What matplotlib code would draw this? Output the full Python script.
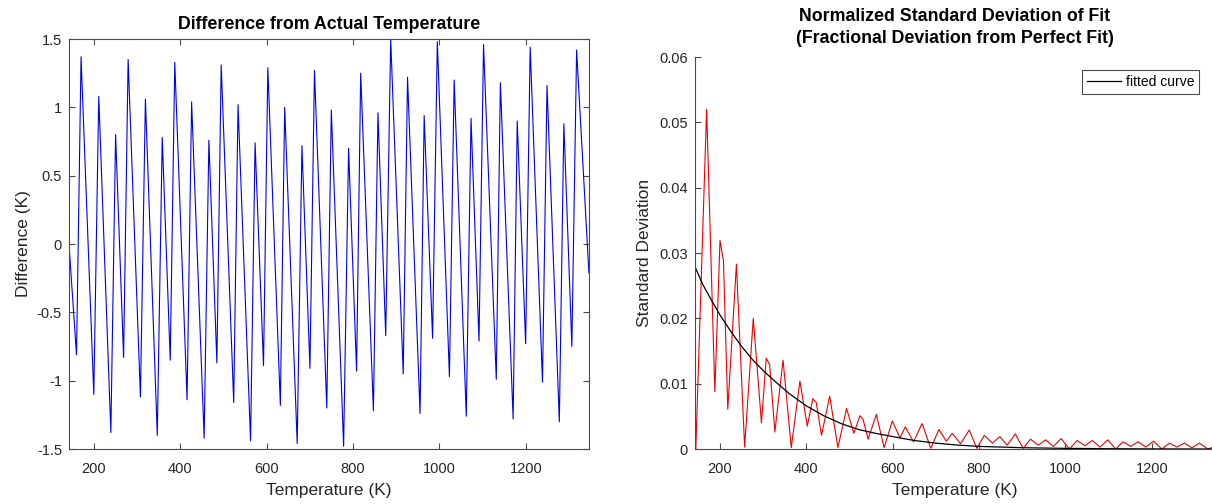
import matplotlib
matplotlib.use("Agg")
import matplotlib.pyplot as plt

# left panel: difference from actual temperature (peaks / troughs)
left_temp = [142, 159.5, 170, 199.5, 211, 239, 250, 268.5, 279, 307.5, 319, 346.5, 358,
             376.5, 387, 415.5, 426, 455, 466, 484.5, 494.5, 523.5, 533.5, 562.5, 573,
             592.5, 602.5, 631.5, 641.5, 670.5, 681.5, 700, 710.5, 739, 749.5, 778, 789.5,
             808, 817.5, 847, 857.5, 875.5, 887, 916, 926, 955, 964.5, 984, 995, 1023, 1034,
             1062, 1073, 1091.5, 1102, 1131.5, 1141, 1170.5, 1180, 1199.5, 1210, 1238.5, 1249,
             1277.5, 1288, 1306.5, 1317.5, 1346]
left_diff = [0.0, -0.81, 1.37, -1.10, 1.08, -1.38, 0.80, -0.83, 1.35, -1.12, 1.06, -1.40, 0.78,
             -0.85, 1.33, -1.14, 1.04, -1.42, 0.76, -0.87, 1.31, -1.16, 1.02, -1.44, 0.74,
             -0.89, 1.29, -1.18, 1.00, -1.46, 0.72, -0.91, 1.27, -1.20, 0.98, -1.48, 0.70,
             -0.93, 1.25, -1.22, 0.96, -0.67, 1.50, -0.95, 1.22, -1.24, 0.94, -0.69, 1.48,
             -0.97, 1.20, -1.26, 0.92, -0.71, 1.46, -0.99, 1.18, -1.28, 0.90, -0.73, 1.44,
             -1.01, 1.16, -1.30, 0.88, -0.75, 1.42, -0.21]

# right panel: normalized standard deviation (red) and fitted curve (black)
std_temp = [144, 169, 188, 200, 208, 218, 238, 257, 277, 296, 307, 315, 327, 346, 365,
            385, 402, 415, 423, 435, 454, 473, 493, 510, 524, 531, 543, 562, 580,
            599, 617, 629, 648, 668, 688, 707, 724, 738, 757, 777, 795, 812, 831, 848,
            865, 884, 902, 919, 937, 954, 972, 990, 1009, 1027, 1045, 1062, 1080, 1098,
            1116, 1133, 1151, 1168, 1186, 1204, 1223, 1241, 1258, 1275, 1293, 1310, 1330, 1346]
std_dev = [0.0, 0.052, 0.0088, 0.0319, 0.0288, 0.0061, 0.0283, 0.0003, 0.0200, 0.0040,
           0.0139, 0.0129, 0.0026, 0.0136, 0.0002, 0.0104, 0.0035, 0.0077, 0.0071, 0.0021,
           0.0081, 0.0002, 0.0062, 0.0024, 0.0051, 0.0046, 0.0015, 0.0053, 0.0002,
           0.0043, 0.0017, 0.0034, 0.0011, 0.0039, 0.0001, 0.0030, 0.0012, 0.0024, 0.0008,
           0.0029, 0.0001, 0.0021, 0.0009, 0.0019, 0.0006, 0.0023, 0.0001, 0.0015, 0.0006,
           0.0014, 0.0004, 0.0016, 0.0, 0.0013, 0.0005, 0.0013, 0.0003, 0.0014,
           0.0, 0.0011, 0.0004, 0.0011, 0.0003, 0.0012, 0.0, 0.0009, 0.0003, 0.0009,
           0.0002, 0.0009, 0.0, 0.0004]

fit_temp = [142, 160, 180, 200, 225, 250, 275, 300, 330, 360, 400, 440, 480, 520, 560,
            600, 650, 700, 750, 800, 850, 900, 1000, 1100, 1200, 1346]
fit_dev = [0.0279, 0.0252, 0.0228, 0.0205, 0.0180, 0.0157, 0.0137, 0.0120, 0.0102, 0.0085,
           0.0066, 0.0051, 0.0039, 0.0030, 0.0024, 0.0019, 0.0013, 0.0009, 0.0006, 0.0004,
           0.0003, 0.0002, 0.0001, 0.00005, 0.00002, 0.0]

x_ticks = [200, 400, 600, 800, 1000, 1200]
left_yticks = [-1.5, -1, -0.5, 0, 0.5, 1, 1.5]
left_yticklabels = ['-1.5', '-1', '-0.5', '0', '0.5', '1', '1.5']
right_yticks = [0, 0.01, 0.02, 0.03, 0.04, 0.05, 0.06]
right_yticklabels = ['0', '0.01', '0.02', '0.03', '0.04', '0.05', '0.06']

plt.rcParams['font.family'] = ['Liberation Sans', 'DejaVu Sans']
axis_col = '#4a4a4a'
text_col = '#262626'

fig = plt.figure(figsize=(12.12, 5.04), dpi=100)

def style_axes(ax, box):
    for side in ['left', 'bottom', 'top', 'right']:
        ax.spines[side].set_color(axis_col)
        ax.spines[side].set_linewidth(0.8)
    if not box:
        ax.spines['top'].set_visible(False)
        ax.spines['right'].set_visible(False)
    ax.tick_params(direction='in', length=4, width=0.8, color=axis_col,
                   labelcolor=text_col, labelsize=10.5,
                   top=box, right=box)
    ax.tick_params(axis='x', pad=9.5)
    ax.tick_params(axis='y', pad=5)

# left plot
ax1 = fig.add_axes([0.0569, 0.1091, 0.4290, 0.8135])
ax1.plot(left_temp, left_diff, color='#0000ee', linewidth=0.8)
ax1.set_xlim(142, 1346)
ax1.set_ylim(-1.5, 1.5)
ax1.set_xticks(x_ticks)
ax1.set_yticks(left_yticks)
ax1.set_yticklabels(left_yticklabels)
style_axes(ax1, True)
ax1.set_xlabel('Temperature (K)', fontsize=12.5, color=text_col, labelpad=5)
ax1.set_ylabel('Difference (K)', fontsize=12.5, color=text_col, labelpad=4)
ax1.set_title('Difference from Actual Temperature', fontsize=12.8, fontweight='bold',
              color='black', pad=7)

# right plot
ax2 = fig.add_axes([0.5734, 0.1091, 0.4290, 0.7778])
ax2.plot(std_temp, std_dev, color='#ee0000', linewidth=0.8)
ax2.plot(fit_temp, fit_dev, color='black', linewidth=0.9, label='fitted curve')
ax2.set_xlim(142, 1346)
ax2.set_ylim(0, 0.06)
ax2.set_xticks(x_ticks)
ax2.set_yticks(right_yticks)
ax2.set_yticklabels(right_yticklabels)
style_axes(ax2, False)
ax2.set_xlabel('Temperature (K)', fontsize=12.5, color=text_col, labelpad=5)
ax2.set_ylabel('Standard Deviation', fontsize=12.5, color=text_col, labelpad=5)
ax2.set_title('Normalized Standard Deviation of Fit\n(Fractional Deviation from Perfect Fit)',
              fontsize=12.8, fontweight='bold', color='black', pad=10, linespacing=1.4)

handles, labels = ax2.get_legend_handles_labels()
leg = ax2.legend(handles, labels, loc='upper right', bbox_to_anchor=(1199 / 1212, 1 - 70 / 504),
                 bbox_transform=fig.transFigure, borderaxespad=0, fontsize=10,
                 fancybox=False, framealpha=1, edgecolor=axis_col, handlelength=2.5,
                 handletextpad=0.3, borderpad=0.35)
leg.get_frame().set_linewidth(0.8)

fig.savefig('out.png', dpi=100)
